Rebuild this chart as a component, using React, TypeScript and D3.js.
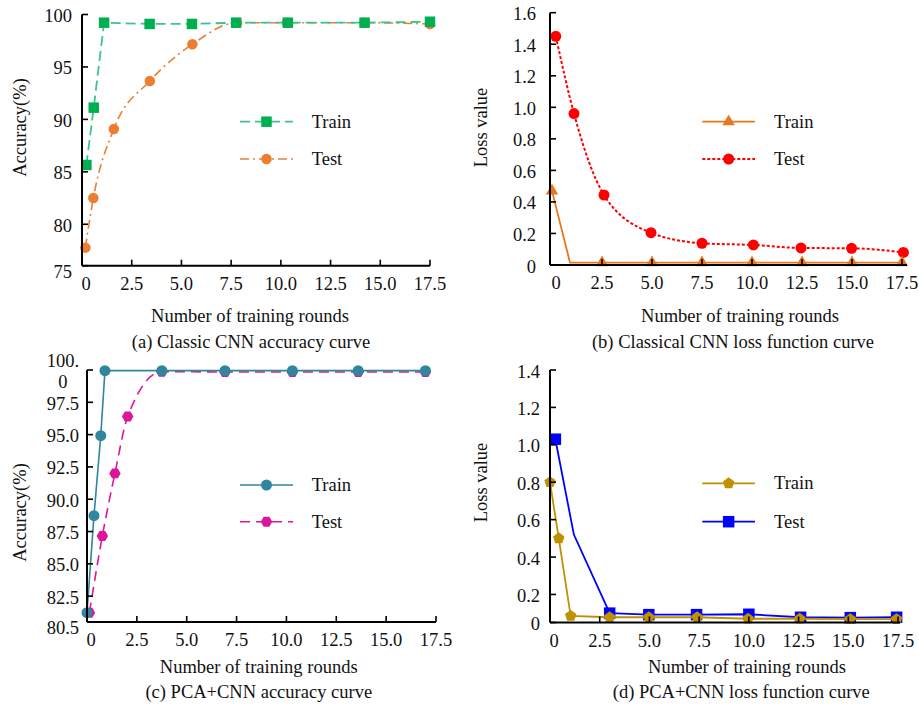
import React, { useRef, useEffect } from 'react';
import * as d3 from 'd3';

// (a) Classic CNN accuracy
const aTrainX = [0.22, 0.59, 1.11, 3.4, 5.53, 7.75, 10.35, 14.21, 17.5];
const aTrainY = [85.65, 91.12, 99.22, 99.1, 99.1, 99.22, 99.22, 99.22, 99.31];
const aTestX = [0.17, 0.57, 1.6, 3.41, 5.55, 7.8, 10.3, 14.21, 17.5];
const aTestY = [77.77, 82.5, 89.08, 93.66, 97.16, 99.22, 99.22, 99.22, 99.1];

// (b) Classical CNN loss
const bTrainX = [0, 0.9, 2.5, 5, 7.5, 10, 12.5, 15, 17.5];
const bTrainY = [0.47, 0.015, 0.015, 0.015, 0.015, 0.015, 0.015, 0.015, 0.015];
const bTrainMarked = [1, 0, 1, 1, 1, 1, 1, 1, 1];
const bTestX = [0.19, 1.1, 2.6, 4.95, 7.5, 10.07, 12.45, 14.98, 17.57];
const bTestY = [1.45, 0.96, 0.444, 0.205, 0.138, 0.127, 0.108, 0.106, 0.08];

// (c) PCA+CNN accuracy
const cTrainX = [0, 0.35, 0.69, 0.9, 3.75, 6.92, 10.3, 13.6, 16.97];
const cTrainY = [81.22, 88.73, 94.92, 99.95, 99.95, 99.95, 99.95, 99.95, 99.95];
const cTestX = [0.12, 0.77, 1.4, 2.04, 3.75, 6.92, 10.3, 13.6, 16.97];
const cTestY = [81.22, 87.16, 92.0, 96.4, 99.87, 99.85, 99.85, 99.85, 99.85];

// (d) PCA+CNN loss
const dTrainX = [0, 0.44, 1.04, 3.0, 4.97, 7.4, 9.96, 12.56, 15.1, 17.43];
const dTrainY = [0.8, 0.5, 0.085, 0.078, 0.078, 0.078, 0.07, 0.07, 0.068, 0.068];
const dTestX = [0.27, 1.2, 3.0, 4.97, 7.37, 10.0, 12.6, 15.1, 17.43];
const dTestY = [1.03, 0.52, 0.1, 0.092, 0.092, 0.094, 0.078, 0.076, 0.078];
const dTestMarked = [1, 0, 1, 1, 1, 1, 1, 1, 1];

const xTicks = [0, 2.5, 5, 7.5, 10, 12.5, 15, 17.5];
const xTickLabels = ['0', '2.5', '5.0', '7.5', '10.0', '12.5', '15.0', '17.5'];
const aYTicks = [75, 80, 85, 90, 95, 100];
const aYTickLabels = ['75', '80', '85', '90', '95', '100'];
const bYTicks = [0, 0.2, 0.4, 0.6, 0.8, 1.0, 1.2, 1.4, 1.6];
const bYTickLabels = ['0', '0.2', '0.4', '0.6', '0.8', '1.0', '1.2', '1.4', '1.6'];
const cYTicks = [80.5, 82.5, 85, 87.5, 90, 92.5, 95, 97.5, 100];
const cYTickLabels = ['80.5', '82.5', '85.0', '87.5', '90.0', '92.5', '95.0', '97.5', '100.\n0'];
const dYTicks = [0, 0.2, 0.4, 0.6, 0.8, 1.0, 1.2, 1.4];
const dYTickLabels = ['0', '0.2', '0.4', '0.6', '0.8', '1.0', '1.2', '1.4'];
const seriesNames = ['Train', 'Test'];

const FONT = "'Liberation Serif', 'Times New Roman', serif";

type Marker = 'square' | 'circle' | 'triangle' | 'hexagon' | 'pentagon';
type Series = {
  name: string;
  xs: number[];
  ys: number[];
  marked?: number[];
  line: string;
  fill: string;
  dash: string | null;
  width: number;
  marker: Marker;
  size: number;
  smooth: boolean;
};

const polygon = (n: number, r: number, start: number) => {
  const pts = d3.range(n).map(i => {
    const a = start + (i * 2 * Math.PI) / n;
    return [r * Math.cos(a), r * Math.sin(a)];
  });
  return 'M' + pts.map(p => p.join(',')).join('L') + 'Z';
};

const markerPath = (m: Marker, size: number) => {
  if (m === 'square') return d3.symbol(d3.symbolSquare, size * size)()!;
  if (m === 'circle') return d3.symbol(d3.symbolCircle, (Math.PI * size * size) / 4)()!;
  if (m === 'triangle') return d3.symbol(d3.symbolTriangle, (size * size * Math.sqrt(3)) / 4)()!;
  if (m === 'hexagon') return polygon(6, size / 2, 0);
  return polygon(5, size / 2, -Math.PI / 2);
};

const panels = [
  {
    xDomain: [0, 17.5], xRange: [82, 430],
    yDomain: [76.05, 100], yRange: [265.7, 14.5],
    yTicks: aYTicks, yTickLabels: aYTickLabels, yGap: 10,
    yTitle: 'Accuracy(%)', yTitlePos: [20, 127.5],
    xTitlePos: [250, 322], caption: '(a) Classic CNN accuracy curve', captionPos: [251, 348],
    legend: { x0: 240, x1: 293, y0: 121.7, dy: 37.3, tx: 311.7 },
    series: [
      { name: seriesNames[1], xs: aTestX, ys: aTestY, line: '#ed7d31', fill: '#ed7d31', dash: '9,4,2,4', width: 1.6, marker: 'circle', size: 10.5, smooth: true },
      { name: seriesNames[0], xs: aTrainX, ys: aTrainY, line: '#3cc48a', fill: '#00b050', dash: '10,5', width: 1.8, marker: 'square', size: 10.5, smooth: false },
    ] as Series[],
    legendOrder: [1, 0],
  },
  {
    xDomain: [-0.1, 17.75], xRange: [550, 907],
    yDomain: [0, 1.6], yRange: [265, 12.7],
    yTicks: bYTicks, yTickLabels: bYTickLabels, yGap: 14,
    yTitle: 'Loss value', yTitlePos: [480.7, 127.5],
    xTitlePos: [740, 322], caption: '(b) Classical CNN loss function curve', captionPos: [733, 348],
    legend: { x0: 702.3, x1: 755, y0: 121.7, dy: 37.3, tx: 774 },
    series: [
      { name: seriesNames[1], xs: bTestX, ys: bTestY, line: '#ff0000', fill: '#ff0000', dash: '3,2', width: 2, marker: 'circle', size: 11, smooth: true },
      { name: seriesNames[0], xs: bTrainX, ys: bTrainY, marked: bTrainMarked, line: '#e8771e', fill: '#e8771e', dash: null, width: 1.8, marker: 'triangle', size: 12.5, smooth: false },
    ] as Series[],
    legendOrder: [1, 0],
  },
  {
    xDomain: [0, 17.5], xRange: [87, 436],
    yDomain: [80.5, 100], yRange: [622, 370],
    yTicks: cYTicks, yTickLabels: cYTickLabels, yGap: 8,
    yTitle: 'Accuracy(%)', yTitlePos: [20, 512.5],
    xTitlePos: [258.7, 673.3], caption: '(c) PCA+CNN accuracy curve', captionPos: [258.8, 698.3],
    legend: { x0: 240, x1: 293, y0: 485, dy: 36.7, tx: 311.7 },
    series: [
      { name: seriesNames[1], xs: cTestX, ys: cTestY, line: '#dc169b', fill: '#dc169b', dash: '10,6', width: 1.6, marker: 'hexagon', size: 11.5, smooth: true },
      { name: seriesNames[0], xs: cTrainX, ys: cTrainY, line: '#31859c', fill: '#31859c', dash: null, width: 1.6, marker: 'circle', size: 11, smooth: false },
    ] as Series[],
    legendOrder: [1, 0],
  },
  {
    xDomain: [0, 17.6], xRange: [550, 900],
    yDomain: [0.05, 1.4], yRange: [622.5, 370],
    yTicks: dYTicks, yTickLabels: dYTickLabels, yGap: 10,
    yTitle: 'Loss value', yTitlePos: [480.7, 482.5],
    xTitlePos: [747, 673.3], caption: '(d) PCA+CNN loss function curve', captionPos: [741.3, 698.3],
    legend: { x0: 702.3, x1: 755, y0: 483.3, dy: 38.4, tx: 774 },
    series: [
      { name: seriesNames[1], xs: dTestX, ys: dTestY, marked: dTestMarked, line: '#0000ff', fill: '#0000ff', dash: null, width: 1.8, marker: 'square', size: 11.5, smooth: false },
      { name: seriesNames[0], xs: dTrainX, ys: dTrainY, line: '#bf9000', fill: '#bf9000', dash: null, width: 1.8, marker: 'pentagon', size: 12, smooth: false },
    ] as Series[],
    legendOrder: [1, 0],
  },
];

export default function App() {
  const svgRef = useRef<SVGSVGElement>(null);

  useEffect(() => {
    const svg = d3.select(svgRef.current!);
    svg.selectAll('*').remove();

    panels.forEach(p => {
      const g = svg.append('g').attr('font-family', FONT).attr('font-size', 18.5);
      const x = d3.scaleLinear().domain(p.xDomain).range(p.xRange);
      const y = d3.scaleLinear().domain(p.yDomain).range(p.yRange).clamp(true);
      const x0 = p.xRange[0];
      const yBase = p.yRange[0];

      // lines first, test below train
      p.series.forEach(s => {
        const pts = s.xs.map((v, i) => ({ x: v, y: s.ys[i], m: s.marked ? s.marked[i] : 1 }));
        const ln = d3.line<{ x: number; y: number }>()
          .x(d => x(d.x))
          .y(d => y(d.y))
          .curve(s.smooth ? d3.curveMonotoneX : d3.curveLinear);
        g.append('path')
          .attr('d', ln(pts))
          .attr('fill', 'none')
          .attr('stroke', s.line)
          .attr('stroke-width', s.width)
          .attr('stroke-dasharray', s.dash);
        g.selectAll(null)
          .data(pts.filter(d => d.m))
          .join('path')
          .attr('d', markerPath(s.marker, s.size))
          .attr('transform', d => `translate(${x(d.x)},${y(d.y)})`)
          .attr('fill', s.fill);
      });

      // axes
      g.append('line').attr('x1', x0).attr('x2', x0).attr('y1', p.yRange[1]).attr('y2', yBase)
        .attr('stroke', '#000').attr('stroke-width', 2);
      g.append('line').attr('x1', x0).attr('x2', p.xRange[1]).attr('y1', yBase).attr('y2', yBase)
        .attr('stroke', '#000').attr('stroke-width', 2);

      xTicks.forEach((t, i) => {
        if (t > 0) {
          g.append('line').attr('x1', x(t)).attr('x2', x(t)).attr('y1', yBase).attr('y2', yBase - 6)
            .attr('stroke', '#000').attr('stroke-width', 1.6);
        }
        g.append('text').attr('x', x(t) + (t === 0 ? 4 : 0)).attr('y', yBase + 24)
          .attr('text-anchor', 'middle').attr('fill', '#111').text(xTickLabels[i]);
      });

      p.yTicks.forEach((t, i) => {
        const ty = y(t);
        g.append('line').attr('x1', x0).attr('x2', x0 + 6).attr('y1', ty).attr('y2', ty)
          .attr('stroke', '#000').attr('stroke-width', 1.6);
        const label = p.yTickLabels[i];
        const rx = x0 - p.yGap;
        const bottom = ty >= yBase - 0.5 && t !== 0;
        if (label.includes('\n')) {
          const [l1, l2] = label.split('\n');
          const t1 = g.append('text').attr('x', rx).attr('y', ty - 3)
            .attr('text-anchor', 'end').attr('fill', '#111').text(l1);
          const w = (t1.node() as SVGTextElement).getComputedTextLength();
          g.append('text').attr('x', rx - w / 2).attr('y', ty + 18)
            .attr('text-anchor', 'middle').attr('fill', '#111').text(l2);
        } else {
          g.append('text').attr('x', rx).attr('y', ty + (bottom ? 12 : 7.5))
            .attr('text-anchor', 'end').attr('fill', '#111').text(label);
        }
      });

      // titles
      g.append('text')
        .attr('transform', `translate(${p.yTitlePos[0]},${p.yTitlePos[1]}) rotate(-90)`)
        .attr('dy', '0.35em').attr('text-anchor', 'middle').attr('fill', '#111').text(p.yTitle);
      g.append('text').attr('x', p.xTitlePos[0]).attr('y', p.xTitlePos[1])
        .attr('text-anchor', 'middle').attr('fill', '#111').text('Number of training rounds');
      g.append('text').attr('x', p.captionPos[0]).attr('y', p.captionPos[1])
        .attr('text-anchor', 'middle').attr('fill', '#111').text(p.caption);

      // legend
      const L = p.legend;
      p.legendOrder.forEach((si, k) => {
        const s = p.series[si];
        const ly = L.y0 + k * L.dy;
        g.append('line').attr('x1', L.x0).attr('x2', L.x1).attr('y1', ly).attr('y2', ly)
          .attr('stroke', s.line).attr('stroke-width', s.width).attr('stroke-dasharray', s.dash);
        g.append('path').attr('d', markerPath(s.marker, s.size))
          .attr('transform', `translate(${(L.x0 + L.x1) / 2},${ly})`).attr('fill', s.fill);
        g.append('text').attr('x', L.tx).attr('y', ly + 6).attr('fill', '#111').text(s.name);
      });
    });
  }, []);

  return (
    <svg
      ref={svgRef}
      width={919}
      height={705}
      style={{ position: 'absolute', left: 0, top: 0, background: '#fff' }}
    />
  );
}
